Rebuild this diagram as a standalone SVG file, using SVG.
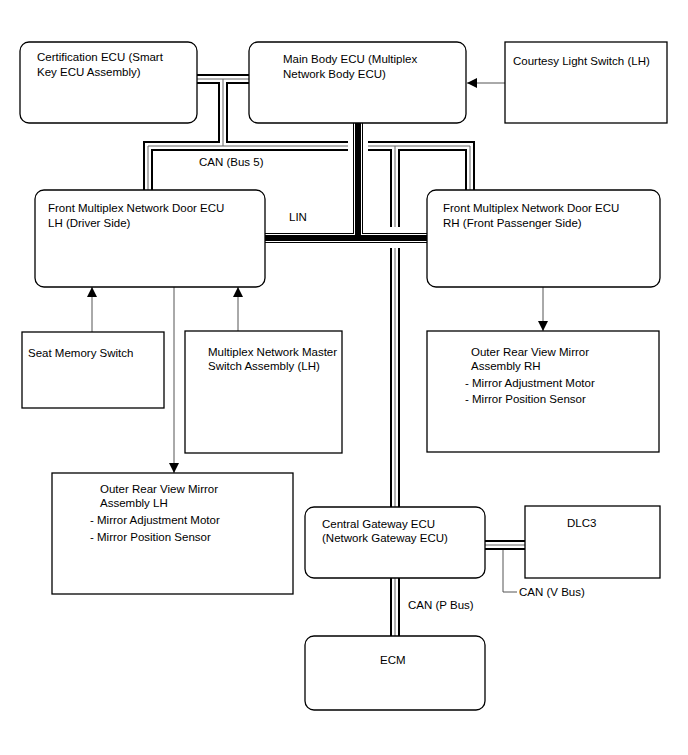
<svg xmlns="http://www.w3.org/2000/svg" width="688" height="755" viewBox="0 0 688 755">
<defs>
<style>
.box{fill:#fff;stroke:#000;stroke-width:1.3}
text{font-family:"Liberation Sans",Arial,sans-serif;font-size:11.5px;fill:#000}
.canB{fill:none;stroke:#000;stroke-width:10}
.canW{fill:none;stroke:#fff;stroke-width:6}
.canG{fill:none;stroke:#666;stroke-width:1}
.linB{fill:none;stroke:#000;stroke-width:10}
.linW{fill:none;stroke:#fff;stroke-width:8}
.linC{fill:none;stroke:#000;stroke-width:6}
.wire{fill:none;stroke:#555;stroke-width:1}
</style>
<marker id="ah" viewBox="0 0 10 10" refX="10" refY="5" markerWidth="10" markerHeight="10" markerUnits="userSpaceOnUse" orient="auto">
<path d="M0,0 L10,5 L0,10 Z" fill="#000"/>
</marker>
</defs>
<rect width="688" height="755" fill="#fff"/>
<g id="connectors">
<g id="can">
<path class="canB" d="M197,79 H249 M223,79 V146 M148,190 V146 H348 M368,146 H470 V190 M395,146 V227 M395,248 V507 M395,578 V636 M485,545 H525"/>
<path class="canW" d="M197,79 H249 M223,79 V146 M148,190 V146 H348 M368,146 H470 V190 M395,146 V227 M395,248 V507 M395,578 V636 M485,545 H525"/>
<path class="canG" d="M197,79 H249 M223,79 V146 M148,190 V146 H348 M368,146 H470 V190 M395,146 V227 M395,248 V507 M395,578 V636 M485,545 H525"/>
</g>
<g id="lin">
<path class="linB" d="M265,238 H427 M358,123 V238"/>
<path class="linW" d="M265,238 H427 M358,123 V238"/>
<path class="linC" d="M265,238 H427 M358,123 V238"/>
</g>
<path class="wire" d="M505,83 H467" marker-end="url(#ah)"/>
<path class="wire" d="M92,332 V287" marker-end="url(#ah)"/>
<path class="wire" d="M238,331 V287" marker-end="url(#ah)"/>
<path class="wire" d="M174,287 V473" marker-end="url(#ah)"/>
<path class="wire" d="M543,287 V331" marker-end="url(#ah)"/>
<path class="wire" d="M503,550 V592 H517" stroke="#000"/>
<text x="199" y="166">CAN (Bus 5)</text>
<text x="289" y="221">LIN</text>
<text x="408" y="609">CAN (P Bus)</text>
<text x="519" y="596">CAN (V Bus)</text>
</g>
<g id="cert"><rect class="box" x="20" y="42" width="177" height="81" rx="9"/><text x="37" y="61">Certification ECU (Smart</text><text x="37" y="76">Key ECU Assembly)</text></g>
<g id="mainbody"><rect class="box" x="249" y="42" width="217" height="81" rx="9"/><text x="283" y="63">Main Body ECU (Multiplex</text><text x="283" y="78">Network Body ECU)</text></g>
<g id="courtesy"><rect class="box" x="505" y="42" width="162" height="81"/><text x="513" y="65">Courtesy Light Switch (LH)</text></g>
<g id="doorLH"><rect class="box" x="35" y="190" width="230" height="97" rx="9"/><text x="48" y="212">Front Multiplex Network Door ECU</text><text x="48" y="227">LH (Driver Side)</text></g>
<g id="doorRH"><rect class="box" x="427" y="190" width="233" height="97" rx="9"/><text x="443" y="212">Front Multiplex Network Door ECU</text><text x="443" y="227">RH (Front Passenger Side)</text></g>
<g id="seat"><rect class="box" x="22" y="332" width="142" height="76"/><text x="28" y="357">Seat Memory Switch</text></g>
<g id="master"><rect class="box" x="185" y="331" width="157" height="122"/><text x="208" y="356">Multiplex Network Master</text><text x="208" y="370">Switch Assembly (LH)</text></g>
<g id="mirrorRH"><rect class="box" x="427" y="331" width="232" height="121"/><text x="471" y="356">Outer Rear View Mirror</text><text x="471" y="370">Assembly RH</text><text x="465" y="387">- Mirror Adjustment Motor</text><text x="465" y="403">- Mirror Position Sensor</text></g>
<g id="mirrorLH"><rect class="box" x="52" y="473" width="241" height="121"/><text x="100" y="493">Outer Rear View Mirror</text><text x="100" y="507">Assembly LH</text><text x="90" y="524">- Mirror Adjustment Motor</text><text x="90" y="541">- Mirror Position Sensor</text></g>
<g id="gateway"><rect class="box" x="305" y="507" width="180" height="71" rx="9"/><text x="322" y="528">Central Gateway ECU</text><text x="322" y="542">(Network Gateway ECU)</text></g>
<g id="dlc3"><rect class="box" x="525" y="506" width="135" height="72"/><text x="567" y="527">DLC3</text></g>
<g id="ecm"><rect class="box" x="305" y="636" width="180" height="74" rx="9"/><text x="380" y="664">ECM</text></g>
</svg>
